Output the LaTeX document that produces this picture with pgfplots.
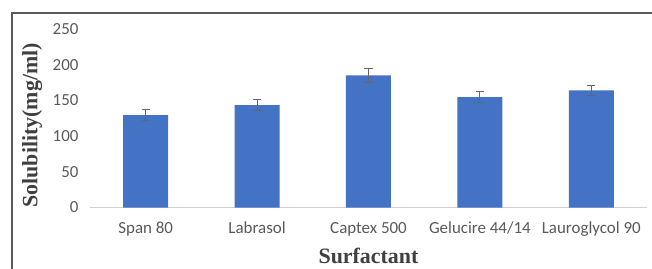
\documentclass[border=0pt]{standalone}
\usepackage{fontspec}
\setmainfont{Carlito}
\newfontfamily\tnr{Liberation Serif}
\usepackage{pgfplots}
\pgfplotsset{compat=1.18}
\definecolor{barblue}{HTML}{4472C4}
\definecolor{ticklab}{HTML}{595959}
\definecolor{labcol}{HTML}{404040}
\begin{document}
\begin{tikzpicture}
\path[use as bounding box] (-90bp,-61.5bp) rectangle (562bp,207.5bp);
\draw[color=black!65, line width=1.2bp] (-78bp,-62bp) -- (-78bp,194.5bp) -- (563bp,194.5bp);
\begin{axis}[
  at={(0,0)}, anchor=south west,
  scale only axis, width=557bp, height=178.5bp,
  xmin=-0.5, xmax=4.5, ymin=0, ymax=250,
  ytick={0,50,100,150,200,250},
  xtick={0,1,2,3,4},
  xticklabels={Span 80, Labrasol, Captex 500, Gelucire 44/14, Lauroglycol 90},
  axis lines*=left,
  y axis line style={draw=none},
  x axis line style={draw=black!18, line width=1bp},
  tick style={draw=none},
  /pgf/number format/assume math mode=true,
  ticklabel style={font=\fontsize{17}{20}\selectfont, text=ticklab},
  xticklabel style={yshift=-11bp},
  yticklabel style={xshift=-8bp},
  xlabel={Surfactant},
  ylabel={Solubility(mg/ml)},
  xlabel style={at={(axis description cs:0.5,-0.272)}, anchor=center, font=\tnr\bfseries\fontsize{22}{26}\selectfont, text=labcol},
  ylabel style={at={(axis description cs:-0.104,0.46)}, anchor=center, rotate=0, font=\tnr\bfseries\fontsize{22}{26}\selectfont, text=labcol},
  clip=false,
]
\addplot[ybar, bar width=45bp, fill=barblue, draw=none,
  error bars/.cd, y dir=both, y explicit,
  error bar style={color=black!60, line width=0.9bp},
  error mark options={rotate=90, mark size=4bp, color=black!60, line width=0.9bp}]
  coordinates {
  (0,129.5) +- (0,7.5)
  (1,143.5) +- (0,8)
  (2,185) +- (0,10)
  (3,154.5) +- (0,8)
  (4,164) +- (0,7.5)
  };
\end{axis}
\end{tikzpicture}
\end{document}
